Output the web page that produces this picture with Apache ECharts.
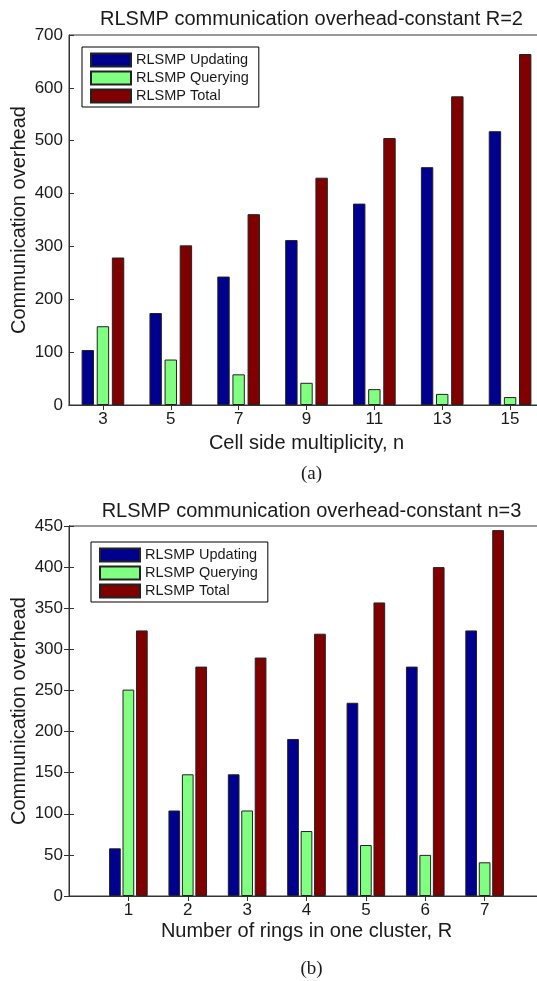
<!DOCTYPE html>
<html>
<head>
<meta charset="utf-8">
<script src="https://cdn.jsdelivr.net/npm/echarts@6/dist/echarts.min.js"></script>
<style>
  html, body { margin: 0; padding: 0; background: #fff; }
  #main { width: 537px; height: 981px; }
</style>
</head>
<body>
<div id="main"></div>
<script>
// (a) constant R=2, x = cell side multiplicity n
const nValues = [3, 5, 7, 9, 11, 13, 15];
const updatingA = [104, 174, 243, 312, 381, 450, 518];
const queryingA = [149, 86, 58, 42, 30, 21, 15];
const totalA = [279, 302, 361, 430, 505, 584, 664];

// (b) constant n=3, x = number of rings R
const rValues = [1, 2, 3, 4, 5, 6, 7];
const updatingB = [58, 104, 148, 191, 235, 279, 323];
const queryingB = [251, 148, 104, 79, 62, 50, 41];
const totalB = [323, 279, 290, 319, 357, 400, 445];

const names = ["RLSMP Updating", "RLSMP Querying", "RLSMP Total"];
const colors = ["#00008f", "#80ff80", "#800000"];

const txt = "#1a1a1a";
const line = "#333";
const font = "Liberation Sans, Arial, sans-serif";
const serif = "Liberation Serif, Times New Roman, serif";

// plot box runs a little past the right edge of the picture, like the reference
const gridLeft = 69;
const gridWidth = 475;
const mid = gridLeft + gridWidth / 2;

const pairs = (xs, ys) => xs.map((x, i) => [x, ys[i]]);

function xAxes(gi, min, max, ticks, name, gap) {
  const base = {
    gridIndex: gi,
    type: "value",
    min: min,
    max: max,
    splitLine: { show: false },
    axisLine: { show: true, lineStyle: { color: line, width: 1 } },
    axisTick: { inside: true, length: 5, customValues: ticks, lineStyle: { color: line } },
  };
  return [
    Object.assign({}, base, {
      position: "bottom",
      name: name,
      nameLocation: "middle",
      nameGap: gap,
      nameMoveOverlap: false,
      nameTextStyle: { color: txt, fontSize: 20, fontFamily: font },
      axisLabel: { customValues: ticks, color: txt, fontSize: 17, fontFamily: font, margin: 6 },
    }),
    Object.assign({}, base, { position: "top", axisLabel: { show: false } }),
  ];
}

function yAxes(gi, max, interval) {
  const base = {
    gridIndex: gi,
    type: "value",
    min: 0,
    max: max,
    interval: interval,
    splitLine: { show: false },
    axisLine: { show: true, lineStyle: { color: line, width: 1 } },
    axisTick: { inside: true, length: 5, lineStyle: { color: line } },
  };
  return [
    Object.assign({}, base, {
      position: "left",
      name: "Communication overhead",
      nameLocation: "middle",
      nameGap: 40,
      nameMoveOverlap: false,
      nameTextStyle: { color: txt, fontSize: 20, fontFamily: font },
      axisLabel: { color: txt, fontSize: 17, fontFamily: font, margin: 6 },
    }),
    Object.assign({}, base, { position: "right", axisLabel: { show: false } }),
  ];
}

function barSeries(gi, xs, sets, bw, gap) {
  return sets.map((ys, k) => ({
    type: "bar",
    name: names[k],
    xAxisIndex: gi * 2,
    yAxisIndex: gi * 2,
    data: pairs(xs, ys),
    barWidth: bw,
    barGap: gap,
    itemStyle: { color: colors[k], borderColor: "#222", borderWidth: 1 },
  }));
}

function legendAt(left, top) {
  return {
    data: names,
    orient: "vertical",
    left: left,
    top: top,
    icon: "rect",
    itemWidth: 40,
    itemHeight: 13,
    itemGap: 2,
    padding: [5, 10, 3, 8],
    borderColor: "#000",
    borderWidth: 1,
    backgroundColor: "#fff",
    selectedMode: false,
    textStyle: { color: txt, fontSize: 14.5, lineHeight: 16, fontFamily: font },
  };
}

function titleAt(text, top, size, family) {
  return {
    text: text, left: mid, textAlign: "center", top: top,
    textStyle: { color: txt, fontSize: size, fontWeight: "normal", fontFamily: family },
  };
}

function gridAt(top) {
  return {
    left: gridLeft, top: top, width: gridWidth, height: 370,
    outerBoundsMode: "none",
    show: true, borderColor: line, borderWidth: 1,
  };
}

const chart = echarts.init(document.getElementById("main"), null, { renderer: "canvas" });
chart.setOption({
  animation: false,
  backgroundColor: "#fff",
  title: [
    titleAt("RLSMP communication overhead-constant R=2", 4, 20, font),
    titleAt("(a)", 460, 19, serif),
    titleAt("RLSMP communication overhead-constant n=3", 496, 20, font),
    titleAt("(b)", 955, 19, serif),
  ],
  legend: [legendAt(82, 47), legendAt(91, 542)],
  grid: [gridAt(35), gridAt(526)],
  xAxis: [
    ...xAxes(0, 2, 16, nValues, "Cell side multiplicity, n", 28),
    ...xAxes(1, 0, 8, rValues, "Number of rings in one cluster, R", 25),
  ],
  yAxis: [...yAxes(0, 700, 100), ...yAxes(1, 450, 50)],
  series: [
    ...barSeries(0, nValues, [updatingA, queryingA, totalA], 12.4, "22%"),
    ...barSeries(1, rValues, [updatingB, queryingB, totalB], 11.7, "15%"),
  ],
});
</script>
</body>
</html>
